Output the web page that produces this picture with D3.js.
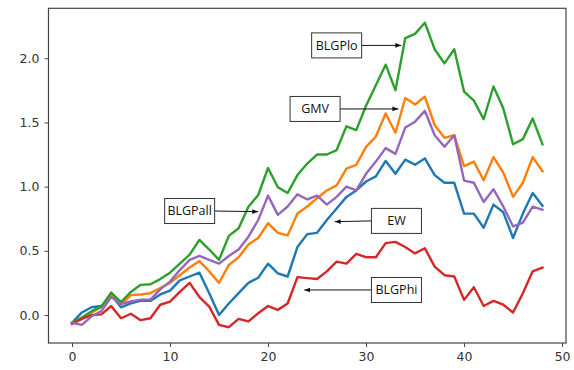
<!DOCTYPE html>
<html>
<head>
<meta charset="utf-8">
<script src="https://cdn.jsdelivr.net/npm/d3@7"></script>
<style>
  body { margin: 0; background: #fff; }
  svg { display: block; }
</style>
</head>
<body>
<div id="chart"></div>
<script>
// Period index 0..48
var periods = d3.range(0, 49);

// Cumulative return series
var ew = [-0.06, 0.02, 0.06, 0.07, 0.155, 0.06, 0.09, 0.11, 0.11, 0.16,
  0.19, 0.27, 0.30, 0.33, 0.17, 0.0, 0.09, 0.17, 0.25, 0.29,
  0.40, 0.325, 0.30, 0.53, 0.63, 0.64, 0.74, 0.83, 0.92, 0.97,
  1.04, 1.08, 1.20, 1.10, 1.21, 1.17, 1.22, 1.09, 1.03, 1.03,
  0.79, 0.79, 0.68, 0.86, 0.80, 0.60, 0.79, 0.95, 0.85];

var gmv = [-0.06, -0.03, 0.02, 0.06, 0.155, 0.08, 0.155, 0.16, 0.17, 0.21,
  0.25, 0.31, 0.37, 0.42, 0.34, 0.25, 0.39, 0.45, 0.55, 0.60,
  0.715, 0.64, 0.62, 0.79, 0.845, 0.91, 0.97, 1.01, 1.14, 1.17,
  1.31, 1.39, 1.57, 1.42, 1.69, 1.64, 1.70, 1.48, 1.38, 1.40,
  1.16, 1.195, 1.05, 1.23, 1.11, 0.92, 1.03, 1.23, 1.12];

var blgpLo = [-0.06, -0.02, 0.03, 0.065, 0.175, 0.10, 0.18, 0.235, 0.24, 0.28,
  0.33, 0.40, 0.47, 0.585, 0.51, 0.43, 0.616, 0.676, 0.844, 0.935,
  1.145, 0.995, 0.95, 1.09, 1.18, 1.25, 1.25, 1.285, 1.47, 1.44,
  1.63, 1.79, 1.95, 1.75, 2.156, 2.19, 2.277, 2.07, 1.96, 2.07,
  1.74, 1.67, 1.525, 1.78, 1.61, 1.33, 1.37, 1.53, 1.33];

var blgpHi = [-0.07, -0.03, 0.0, 0.005, 0.07, -0.025, 0.01, -0.04, -0.025, 0.08,
  0.105, 0.18, 0.25, 0.14, 0.065, -0.077, -0.095, -0.03, -0.05, 0.014,
  0.07, 0.04, 0.09, 0.295, 0.287, 0.28, 0.34, 0.416, 0.40, 0.476,
  0.45, 0.45, 0.56, 0.57, 0.53, 0.48, 0.52, 0.377, 0.31, 0.30,
  0.118, 0.216, 0.07, 0.11, 0.08, 0.02, 0.17, 0.34, 0.37];

var blgpAll = [-0.06, -0.077, -0.01, 0.03, 0.14, 0.085, 0.105, 0.12, 0.12, 0.20,
  0.26, 0.35, 0.43, 0.46, 0.43, 0.40, 0.46, 0.51, 0.61, 0.74,
  0.93, 0.78, 0.845, 0.94, 0.90, 0.93, 0.86, 0.92, 1.0, 0.97,
  1.10, 1.195, 1.30, 1.255, 1.46, 1.506, 1.59, 1.40, 1.31, 1.40,
  1.047, 1.03, 0.88, 0.98, 0.845, 0.69, 0.72, 0.845, 0.82];

// Plot order follows the colour cycle
var seriesNames = ["EW", "GMV", "BLGPlo", "BLGPhi", "BLGPall"];
var seriesValues = [ew, gmv, blgpLo, blgpHi, blgpAll];
var colors = ["#1f77b4", "#ff7f0e", "#2ca02c", "#d62728", "#9467bd"];

var xTicks = [0, 10, 20, 30, 40, 50];
var yTicks = [0.0, 0.5, 1.0, 1.5, 2.0];

// Annotations: label, text position and arrow target, in data units
var noteLabels = ["BLGPlo", "GMV", "BLGPall", "EW", "BLGPhi"];
var noteText = [[27.0, 2.10], [24.8, 1.605], [12.0, 0.81], [33.1, 0.733], [33.1, 0.195]];
var noteTarget = [[33.6, 2.10], [33.3, 1.605], [19.0, 0.805], [26.8, 0.727], [23.7, 0.195]];

var svgWidth = 574;
var svgHeight = 370;

var margin = { top: 8.3, right: 8, bottom: 27, left: 48.5 };
var chartWidth = svgWidth - margin.left - margin.right;
var chartHeight = svgHeight - margin.top - margin.bottom;

var svg = d3.select("#chart")
  .append("svg")
  .attr("width", svgWidth)
  .attr("height", svgHeight);

var chartGroup = svg.append("g")
  .attr("transform", `translate(${margin.left}, ${margin.top})`);

// matplotlib-like 5% margins round the data
var xScale = d3.scaleLinear()
  .domain([-2.4, 50.4])
  .range([0, chartWidth]);

var yScale = d3.scaleLinear()
  .domain([-0.218, 2.389])
  .range([chartHeight, 0]);

var line = d3.line()
  .x(function(d, i) { return xScale(periods[i]); })
  .y(function(d) { return yScale(d); });

seriesValues.forEach(function(vals, k) {
  chartGroup.append("path")
    .datum(vals)
    .attr("fill", "none")
    .attr("stroke", colors[k])
    .attr("stroke-width", 2.4)
    .attr("stroke-linejoin", "round")
    .attr("stroke-linecap", "square")
    .attr("d", line);
});

// Axes
var bottomAxis = d3.axisBottom(xScale).tickValues(xTicks).tickSize(4).tickPadding(5)
  .tickFormat(d3.format("d"));
var leftAxis = d3.axisLeft(yScale).tickValues(yTicks).tickSize(4).tickPadding(5)
  .tickFormat(d3.format(".1f"));

var xAxisG = chartGroup.append("g")
  .attr("transform", `translate(0, ${chartHeight})`)
  .call(bottomAxis);
var yAxisG = chartGroup.append("g")
  .call(leftAxis);

[xAxisG, yAxisG].forEach(function(g) {
  g.select(".domain").remove();
  g.selectAll(".tick line").attr("stroke", "#444").attr("stroke-width", 1);
  g.selectAll(".tick text")
    .attr("fill", "#333")
    .style("font-family", "'DejaVu Sans', sans-serif")
    .style("font-size", "12.5px");
});

// Frame
chartGroup.append("rect")
  .attr("x", 0)
  .attr("y", 0)
  .attr("width", chartWidth)
  .attr("height", chartHeight)
  .attr("fill", "none")
  .attr("stroke", "#444")
  .attr("stroke-width", 1.2);

// Arrow head
svg.append("defs").append("marker")
  .attr("id", "head")
  .attr("viewBox", "0 0 10 10")
  .attr("refX", 10)
  .attr("refY", 5)
  .attr("markerWidth", 6)
  .attr("markerHeight", 6)
  .attr("markerUnits", "userSpaceOnUse")
  .attr("orient", "auto")
  .append("path")
  .attr("d", "M0,1 L10,5 L0,9 Z")
  .attr("fill", "#111");

var boxW = 50;
var boxH = 25;

noteLabels.forEach(function(label, k) {
  var cx = xScale(noteText[k][0]);
  var cy = yScale(noteText[k][1]);
  var tx = xScale(noteTarget[k][0]);
  var ty = yScale(noteTarget[k][1]);
  var startX = tx > cx ? cx + boxW / 2 : cx - boxW / 2;

  chartGroup.append("line")
    .attr("x1", startX)
    .attr("y1", cy)
    .attr("x2", tx)
    .attr("y2", ty)
    .attr("stroke", "#111")
    .attr("stroke-width", 1)
    .attr("marker-end", "url(#head)");

  chartGroup.append("rect")
    .attr("x", cx - boxW / 2)
    .attr("y", cy - boxH / 2)
    .attr("width", boxW)
    .attr("height", boxH)
    .attr("fill", "#fff")
    .attr("stroke", "#333")
    .attr("stroke-width", 1);

  chartGroup.append("text")
    .attr("x", cx)
    .attr("y", cy)
    .attr("dy", "0.35em")
    .attr("text-anchor", "middle")
    .attr("fill", "#111")
    .style("font-family", "'Open Sans', sans-serif")
    .style("font-size", "12.5px")
    .text(label);
});
</script>
</body>
</html>
